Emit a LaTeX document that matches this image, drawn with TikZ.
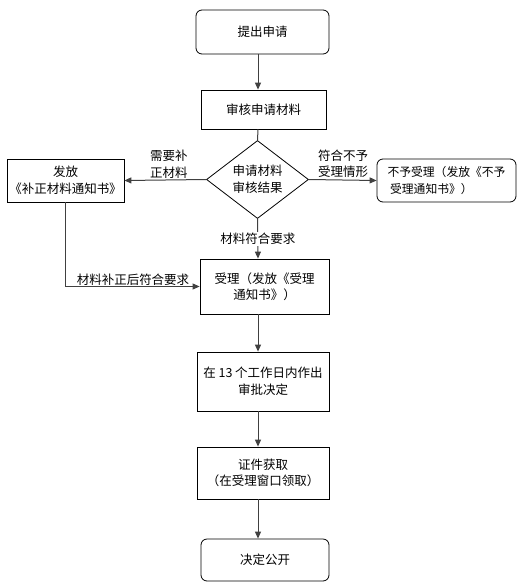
\documentclass[tikz,border=0pt]{standalone}
\usepackage{fontspec}
\setmainfont{Noto Sans CJK SC}
\usetikzlibrary{arrows.meta,shapes.geometric}
\begin{document}
\begin{tikzpicture}[x=1pt,y=-1pt,
  every node/.style={font=\fontsize{12.5}{16.5}\selectfont},
  box/.style={draw=black,line width=0.8pt,fill=white,inner sep=2pt,align=center},
  rbox/.style={box,rounded corners=6pt},
  dec/.style={draw=black,line width=0.8pt,diamond,inner sep=0pt,align=center},
  conn/.style={draw=black!75,line width=1pt,-{Triangle[length=7pt,width=6pt]}},
  lbl/.style={align=left,inner sep=1pt}]
\useasboundingbox (0,0) rectangle (523,587);
\fill[white] (0,0) rectangle (523,587);
\node[rbox,minimum width=133pt,minimum height=44pt] (b1) at (262.5,32) {提出申请};
\node[box,minimum width=125pt,minimum height=39pt] (b2) at (263.5,109.5) {审核申请材料};
\node[dec,minimum width=102pt,minimum height=59pt] (d) at (257.5,179.5) {申请材料\\审核结果};
\node[box,minimum width=117pt,minimum height=43pt] (lb) at (65.5,180.5) {发放\\《补正材料通知书》};
\node[rbox,minimum width=139pt,minimum height=43pt,align=left,font=\fontsize{11.8}{16.5}\selectfont] (rb) at (446.5,180.5) {不予受理（发放《不予\\\ 受理通知书》）};
\node[box,minimum width=129pt,minimum height=55pt] (s) at (264.5,286.5) {受理（发放《受理\\通知书》）};
\node[box,minimum width=132pt,minimum height=59pt] (p) at (263,381.5) {在 13 个工作日内作出\\审批决定};
\node[box,minimum width=132pt,minimum height=52pt] (c) at (263,473) {证件获取\\（在受理窗口领取）};
\node[rbox,minimum width=128pt,minimum height=42pt] (g) at (265,560) {决定公开};
\coordinate (col) at (258,0);
\draw[conn] (b1.south -| col) -- (b2.north -| col);
\draw[draw=black!75,line width=1pt] (b2.south -| col) -- (d.north);
\draw[conn] (d.west) -- (lb.east);
\draw[conn] (d.east) -- (rb.west);
\draw[conn] (d.south) -- (s.north -| col) node[pos=0.5,fill=white,inner sep=1pt] {材料符合要求};
\draw[conn] (lb.south) |- (s.west);
\draw[conn] (s.south -| col) -- (p.north -| col);
\draw[conn] (p.south -| col) -- (c.north -| col);
\draw[conn] (c.south -| col) -- (g.north -| col);
\node[lbl,anchor=west] (l1) at (149,164) {需要补\\正材料};
\node[lbl,anchor=west] (l2) at (317,164) {符合不予\\受理情形};
\node[lbl] (l3) at (133,280) {材料补正后符合要求};
\end{tikzpicture}
\end{document}
